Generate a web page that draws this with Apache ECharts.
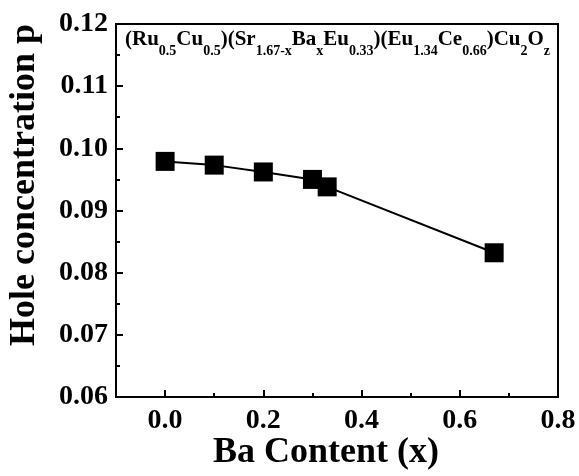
<!DOCTYPE html>
<html>
<head>
<meta charset="utf-8">
<script src="https://cdn.jsdelivr.net/npm/echarts@6/dist/echarts.min.js"></script>
<style>
html,body{margin:0;padding:0;background:#fff;}
#c{width:579px;height:476px;}
</style>
</head>
<body>
<div id="c"></div>
<script>
// Data
const baContent = [0, 0.1, 0.2, 0.3, 0.33, 0.67];
const holeConc = [0.0979, 0.0973, 0.0962, 0.0950, 0.0938, 0.0832];
const xMajorTicks = [0, 0.2, 0.4, 0.6, 0.8];
const xMinorTicks = [0.1, 0.3, 0.5, 0.7];
const xTitle = 'Ba Content (x)';
const yTitle = 'Hole concentration p';

const FONT = '"Liberation Serif", "Times New Roman", serif';

const chart = echarts.init(document.getElementById('c'), null, {renderer: 'canvas'});

const formula = '{m|(Ru}{s|0.5}{m|Cu}{s|0.5}{m|)(Sr}{s|1.67-x}{m|Ba}{s|x}{m|Eu}{s|0.33}{m|)(Eu}{s|1.34}{m|Ce}{s|0.66}{m|)Cu}{s|2}{m|O}{s|z}';

chart.setOption({
  animation: false,
  backgroundColor: '#fff',
  grid: {
    left: 116, top: 24, right: 21, bottom: 79,
    show: true, borderColor: '#000', borderWidth: 2, backgroundColor: 'transparent'
  },
  xAxis: [{
    type: 'value', min: -0.1, max: 0.8,
    axisLine: {show: true, onZero: false, lineStyle: {color: '#000', width: 2}},
    axisTick: {show: true, inside: true, length: 7, customValues: xMajorTicks, lineStyle: {color: '#000', width: 2}},
    axisLabel: {customValues: xMajorTicks, formatter: v => v.toFixed(1), color: '#000', fontFamily: FONT, fontWeight: 'bold', fontSize: 28, margin: 10},
    splitLine: {show: false}
  }, {
    type: 'value', min: -0.1, max: 0.8, position: 'bottom',
    axisLine: {show: false},
    axisTick: {show: true, inside: true, length: 4, customValues: xMinorTicks, lineStyle: {color: '#000', width: 2}},
    axisLabel: {show: false},
    splitLine: {show: false}
  }],
  yAxis: {
    type: 'value', min: 0.06, max: 0.12, interval: 0.01,
    axisLine: {show: true, onZero: false, lineStyle: {color: '#000', width: 2}},
    axisTick: {show: true, inside: true, length: 7, lineStyle: {color: '#000', width: 2}},
    minorTick: {show: true, splitNumber: 2, length: 4, lineStyle: {color: '#000', width: 2}},
    axisLabel: {formatter: v => v.toFixed(2), color: '#000', fontFamily: FONT, fontWeight: 'bold', fontSize: 28, margin: 8},
    splitLine: {show: false}
  },
  graphic: [{
    type: 'text', x: 326, y: 453,
    style: {text: xTitle, font: 'bold 36px ' + FONT, fill: '#000', align: 'center', verticalAlign: 'middle'}
  }, {
    type: 'text', x: 25, y: 185, rotation: Math.PI / 2,
    style: {text: yTitle, font: 'bold 36px ' + FONT, fill: '#000', align: 'center', verticalAlign: 'middle'}
  }, {
    type: 'text', x: 125, y: 29,
    style: {
      text: formula, fill: '#000', align: 'left', verticalAlign: 'top',
      rich: {
        m: {fontSize: 21, fontWeight: 'bold', fontFamily: FONT, lineHeight: 24, verticalAlign: 'top', fill: '#000'},
        s: {fontSize: 14, fontWeight: 'bold', fontFamily: FONT, lineHeight: 14, padding: [15, 0, 0, 0], verticalAlign: 'top', fill: '#000'}
      }
    }
  }],
  series: [{
    type: 'line',
    xAxisIndex: 0,
    data: baContent.map((x, i) => [x, holeConc[i]]),
    symbol: 'rect', symbolSize: 19,
    lineStyle: {color: '#000', width: 2},
    itemStyle: {color: '#000'}
  }]
});
</script>
</body>
</html>
